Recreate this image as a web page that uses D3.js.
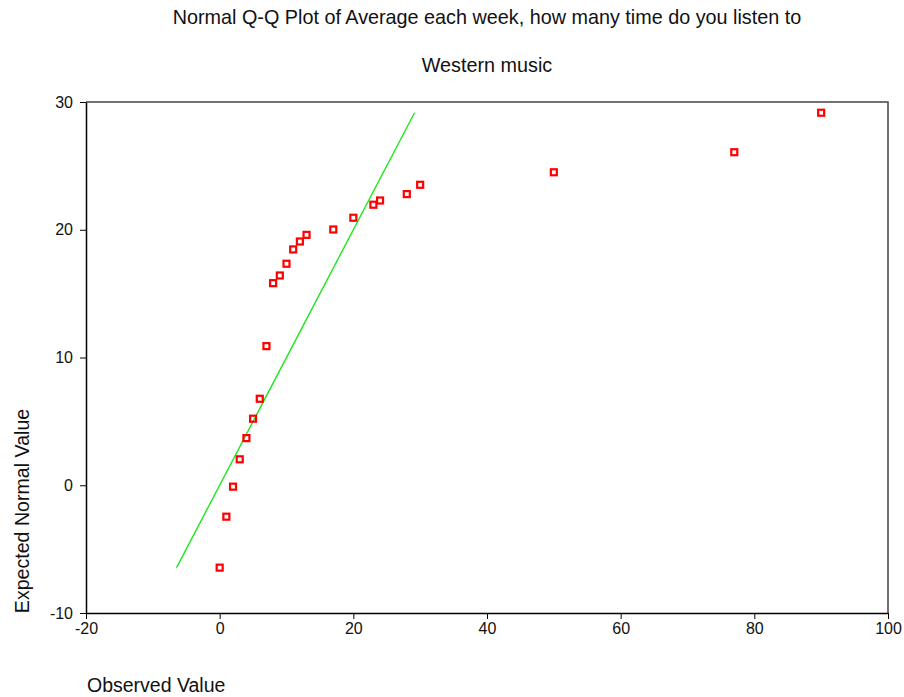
<!DOCTYPE html>
<html>
<head>
<meta charset="utf-8">
<script src="https://cdn.jsdelivr.net/npm/d3@7"></script>
<style>
  html, body { margin: 0; padding: 0; background: #fff; }
  svg { display: block; font-family: "Liberation Sans", Arial, Helvetica, sans-serif; }
</style>
</head>
<body>
<div id="chart"></div>
<script>
// Observed weekly listening counts and their expected normal values
const observed = [0, 1, 2, 3, 4, 5, 6, 7, 8, 9, 10, 11, 12, 13, 17, 20, 23, 24, 28, 30, 50, 77, 90];
const expected = [-6.45, -2.46, -0.11, 2.03, 3.69, 5.21, 6.77, 10.89, 15.82, 16.42, 17.34, 18.46,
                  19.08, 19.6, 20.02, 20.94, 21.96, 22.29, 22.79, 23.52, 24.5, 26.07, 29.16];
const xTicks = [-20, 0, 20, 40, 60, 80, 100];
const yTicks = [-10, 0, 10, 20, 30];
const titleLines = ["Normal Q-Q Plot of Average each week, how many time do you listen to", "Western music"];

const W = 904, H = 697;
const plot = { left: 86, right: 888, top: 102, bottom: 613 };

const svg = d3.select("#chart").append("svg").attr("width", W).attr("height", H);

const x = d3.scaleLinear().domain([-20, 100]).range([plot.left, plot.right]);
const y = d3.scaleLinear().domain([-10, 30]).range([plot.bottom, plot.top]);

// Plain hyphen for negative tick labels
const fmt = d => String(d);

// Frame: top and right edges
svg.append("path")
  .attr("d", `M${plot.left},${plot.top}H${plot.right}V${plot.bottom}`)
  .attr("fill", "none").attr("stroke", "#444").attr("stroke-width", 1.5);

// Axes
const xAxis = svg.append("g").attr("transform", `translate(0,${plot.bottom})`)
  .call(d3.axisBottom(x).tickValues(xTicks).tickFormat(fmt).tickSize(6).tickPadding(4).tickSizeOuter(0));
const yAxis = svg.append("g").attr("transform", `translate(${plot.left},0)`)
  .call(d3.axisLeft(y).tickValues(yTicks).tickFormat(fmt).tickSize(6).tickPadding(7).tickSizeOuter(0));
[xAxis, yAxis].forEach(g => {
  g.select(".domain").attr("stroke", "#000").attr("stroke-width", 1.5);
  g.selectAll(".tick line").attr("stroke", "#000").attr("stroke-width", 1);
  g.selectAll(".tick text").attr("fill", "#111").style("font-size", "16px")
    .style("font-family", "'Liberation Sans', Arial, sans-serif");
});

// Reference line y = x across the range of expected values
const lo = d3.min(expected), hi = d3.max(expected);
svg.append("line")
  .attr("x1", x(lo)).attr("y1", y(lo))
  .attr("x2", x(hi)).attr("y2", y(hi))
  .attr("stroke", "#1ee61e").attr("stroke-width", 1.4);

// Points as hollow squares
const pts = observed.map((v, i) => ({ x: v, y: expected[i] }));
svg.append("g").selectAll("rect").data(pts).join("rect")
  .attr("x", d => x(d.x) - 3).attr("y", d => y(d.y) - 3)
  .attr("width", 6).attr("height", 6)
  .attr("fill", "none").attr("stroke", "#ff0000").attr("stroke-width", 2.2);

// Titles
svg.selectAll("text.title").data(titleLines).join("text")
  .attr("class", "title")
  .attr("x", (plot.left + plot.right) / 2)
  .attr("y", (d, i) => 24 + i * 48)
  .attr("text-anchor", "middle")
  .style("font-size", "19.8px").attr("fill", "#111")
  .text(d => d);

svg.append("text")
  .attr("x", 87).attr("y", 692)
  .style("font-size", "19.5px").attr("fill", "#111")
  .text("Observed Value");

svg.append("text")
  .attr("transform", "translate(29,511) rotate(-90)")
  .attr("text-anchor", "middle")
  .style("font-size", "19.6px").attr("fill", "#111")
  .text("Expected Normal Value");
</script>
</body>
</html>
